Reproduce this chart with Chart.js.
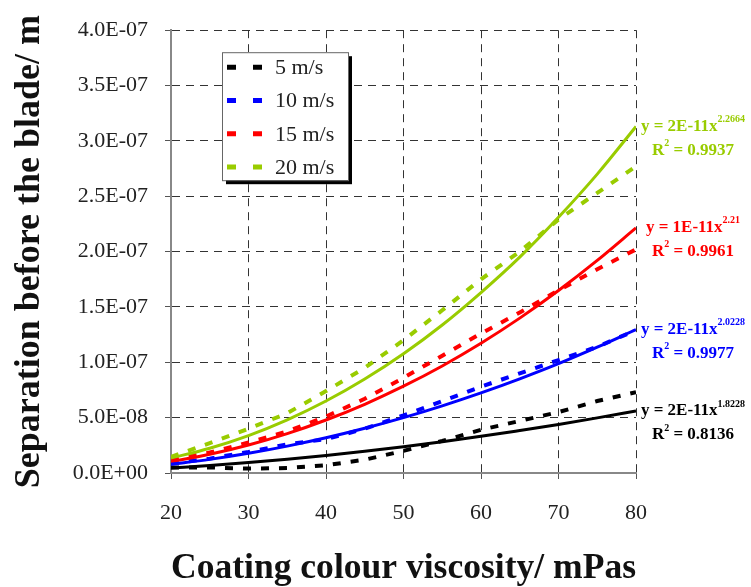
<!DOCTYPE html>
<html>
<head>
<meta charset="utf-8">
<script src="https://cdn.jsdelivr.net/npm/chart.js@4"></script>
<style>
  html, body { margin: 0; padding: 0; background: #fff; }
</style>
</head>
<body>
<canvas id="sepChart" width="751" height="587"></canvas>
<script>
const viscosity = [20, 25, 30, 35, 40, 45, 50, 55, 60, 65, 70, 75, 80];
const speedLabels = ['5 m/s', '10 m/s', '15 m/s', '20 m/s'];
const colours = ['#000000', '#0000ff', '#ff0000', '#99cc00'];

// measured separation before the blade (m)
const sep5  = [5.0e-9, 5.0e-9, 4.0e-9, 4.5e-9, 7.0e-9, 1.2e-8, 2.0e-8, 2.9e-8, 3.9e-8, 4.7e-8, 5.5e-8, 6.5e-8, 7.3e-8];
const sep10 = [8.5e-9, 1.3e-8, 1.9e-8, 2.6e-8, 3.05e-8, 4.0e-8, 5.2e-8, 6.5e-8, 7.8e-8, 9.0e-8, 1.02e-7, 1.14e-7, 1.29e-7];
const sep15 = [1.2e-8, 1.85e-8, 2.75e-8, 3.75e-8, 5.1e-8, 6.7e-8, 8.6e-8, 1.06e-7, 1.26e-7, 1.45e-7, 1.65e-7, 1.84e-7, 2.02e-7];
const sep20 = [1.45e-8, 2.7e-8, 4.0e-8, 5.4e-8, 7.4e-8, 9.5e-8, 1.2e-7, 1.47e-7, 1.75e-7, 2.0e-7, 2.29e-7, 2.53e-7, 2.77e-7];

// power-law trend lines
const fit5  = [4.5e-9, 6.7e-9, 9.4e-9, 1.24e-8, 1.58e-8, 1.96e-8, 2.38e-8, 2.83e-8, 3.31e-8, 3.84e-8, 4.39e-8, 4.98e-8, 5.6e-8];
const fit10 = [7.9e-9, 1.23e-8, 1.78e-8, 2.43e-8, 3.18e-8, 4.04e-8, 5.0e-8, 6.07e-8, 7.24e-8, 8.51e-8, 9.88e-8, 1.137e-7, 1.295e-7];
const fit15 = [1.03e-8, 1.69e-8, 2.53e-8, 3.56e-8, 4.79e-8, 6.21e-8, 7.84e-8, 9.67e-8, 1.172e-7, 1.399e-7, 1.648e-7, 1.92e-7, 2.214e-7];
const fit20 = [1.35e-8, 2.24e-8, 3.38e-8, 4.8e-8, 6.5e-8, 8.49e-8, 1.077e-7, 1.337e-7, 1.63e-7, 1.95e-7, 2.31e-7, 2.7e-7, 3.13e-7];

const fitCoef = ['2E-11', '2E-11', '1E-11', '2E-11'];
const fitExp = ['1.8228', '2.0228', '2.21', '2.2664'];
const fitR2 = ['0.8136', '0.9977', '0.9961', '0.9937'];

const xTicks = [20, 30, 40, 50, 60, 70, 80];
const yTicks = [0, 5e-8, 1e-7, 1.5e-7, 2e-7, 2.5e-7, 3e-7, 3.5e-7, 4e-7];

const measured = [sep5, sep10, sep15, sep20];
const fits = [fit5, fit10, fit15, fit20];

const toPoints = arr => viscosity.map((x, i) => ({ x: x, y: arr[i] }));

const serif = "'Liberation Serif', 'Times New Roman', serif";
Chart.defaults.font.family = serif;
Chart.defaults.color = '#222';

const datasets = [];
measured.forEach((arr, i) => {
  datasets.push({
    label: speedLabels[i],
    data: toPoints(arr),
    borderColor: colours[i],
    borderWidth: 4,
    borderDash: [8, 10],
    pointRadius: 0,
    tension: 0,
    order: 2
  });
});
fits.forEach((arr, i) => {
  datasets.push({
    label: 'fit ' + speedLabels[i],
    data: toPoints(arr),
    borderColor: colours[i],
    borderWidth: 3,
    pointRadius: 0,
    cubicInterpolationMode: 'monotone',
    order: 1
  });
});

// exponent style label, e.g. 4.0E-07
function sciLabel(v) {
  const parts = Number(v).toExponential(1).split('e');
  let exp = parseInt(parts[1], 10);
  const sign = exp < 0 ? '-' : '+';
  exp = Math.abs(exp);
  return parts[0] + 'E' + sign + (exp < 10 ? '0' : '') + exp;
}

// boxed legend with drop shadow inside the plot
const legendBox = {
  id: 'legendBox',
  afterDraw(chart) {
    const ctx = chart.ctx;
    const area = chart.chartArea;
    const x = area.left + 51, y = area.top + 22, w = 126, h = 128;
    ctx.save();
    ctx.fillStyle = '#000';
    ctx.fillRect(x + 4, y + 4, w, h);
    ctx.fillStyle = '#fff';
    ctx.fillRect(x, y, w, h);
    ctx.strokeStyle = '#666';
    ctx.lineWidth = 1;
    ctx.strokeRect(x + 0.5, y + 0.5, w, h);
    ctx.font = '22px ' + serif;
    ctx.textBaseline = 'middle';
    ctx.textAlign = 'left';
    for (let i = 0; i < speedLabels.length; i++) {
      const cy = y + 15 + i * 33.3;
      ctx.strokeStyle = colours[i];
      ctx.lineWidth = 5;
      ctx.setLineDash([9, 17]);
      ctx.beginPath();
      ctx.moveTo(x + 5, cy);
      ctx.lineTo(x + 40, cy);
      ctx.stroke();
      ctx.setLineDash([]);
      ctx.fillStyle = '#222';
      ctx.fillText(speedLabels[i], x + 53, cy + 1);
    }
    ctx.restore();
  }
};

// trend equations and R² next to the end of each fitted line
const fitLabels = {
  id: 'fitLabels',
  afterDraw(chart) {
    const ctx = chart.ctx;
    const cx = chart.chartArea.right + 57;
    ctx.save();
    ctx.textBaseline = 'middle';
    ctx.textAlign = 'left';
    const big = 'bold 17px ' + serif;
    const small = 'bold 10px ' + serif;
    const line = (parts, y, colour) => {
      let total = 0;
      parts.forEach(p => { ctx.font = p.sup ? small : big; total += ctx.measureText(p.t).width; });
      let x = cx - total / 2;
      ctx.fillStyle = colour;
      parts.forEach(p => {
        ctx.font = p.sup ? small : big;
        ctx.fillText(p.t, x, p.sup ? y - 7 : y);
        x += ctx.measureText(p.t).width;
      });
    };
    fits.forEach((arr, i) => {
      const meta = chart.getDatasetMeta(measured.length + i);
      const end = meta.data[meta.data.length - 1];
      const y = end.y;
      line([{ t: 'y = ' + fitCoef[i] + 'x' }, { t: fitExp[i], sup: true }], y, colours[i]);
      line([{ t: 'R' }, { t: '2', sup: true }, { t: ' = ' + fitR2[i] }], y + 24, colours[i]);
    });
    ctx.restore();
  }
};

new Chart(document.getElementById('sepChart'), {
  type: 'line',
  data: { datasets: datasets },
  options: {
    responsive: false,
    animation: false,
    layout: { padding: { top: 25, right: 115, left: 0, bottom: 0 } },
    plugins: {
      legend: { display: false },
      tooltip: { enabled: false }
    },
    scales: {
      x: {
        type: 'linear',
        min: 20,
        max: 80,
        afterBuildTicks: scale => { scale.ticks = xTicks.map(v => ({ value: v })); },
        afterFit: scale => { scale.height = 114; },
        ticks: { font: { size: 22 }, color: '#222', padding: 21 },
        grid: { color: '#333', lineWidth: 1, tickLength: 6, tickColor: '#555' },
        border: { color: '#888', width: 2, dash: [8, 6] },
        title: {
          display: true,
          text: 'Coating colour viscosity/ mPas',
          font: { size: 36, weight: 'bold', lineHeight: 1 },
          color: '#111',
          padding: { top: 2, bottom: 0 }
        }
      },
      y: {
        min: 0,
        max: 4e-7,
        afterBuildTicks: scale => { scale.ticks = yTicks.map(v => ({ value: v })); },
        afterFit: scale => { scale.width = 171; },
        ticks: { font: { size: 22 }, color: '#222', padding: 17, callback: v => sciLabel(v) },
        grid: { color: '#333', lineWidth: 1, tickLength: 6, tickColor: '#555' },
        border: { color: '#888', width: 2, dash: [8, 6] },
        title: {
          display: true,
          text: 'Separation before the blade/ m',
          font: { size: 36, weight: 'bold', lineHeight: 1 },
          color: '#111',
          padding: { top: 12, bottom: 0 }
        }
      }
    }
  },
  plugins: [legendBox, fitLabels]
});
</script>
</body>
</html>
